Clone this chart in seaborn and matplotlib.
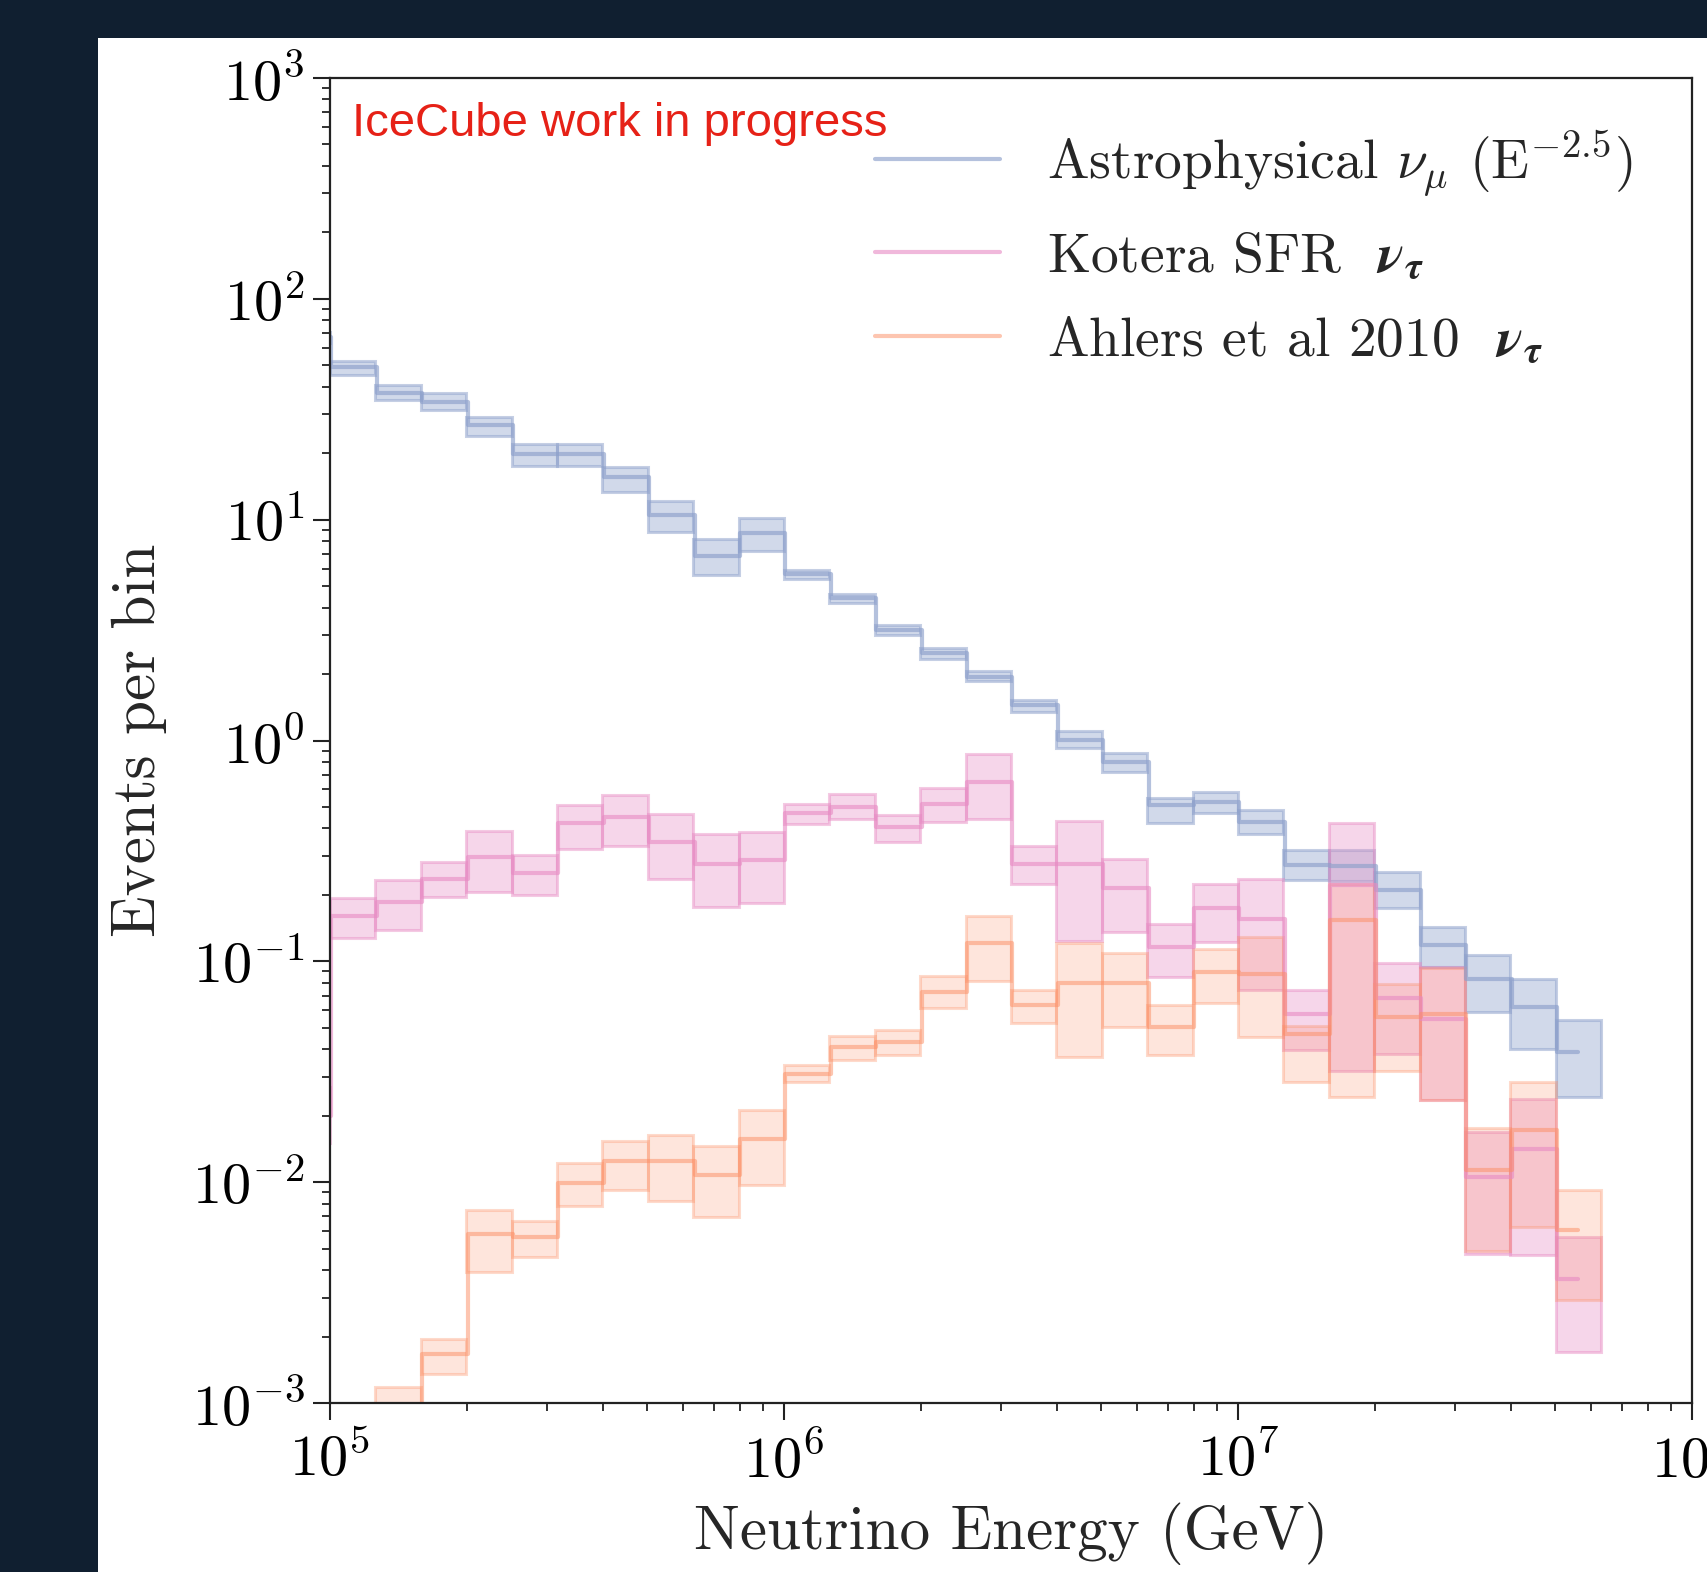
import matplotlib
matplotlib.use("Agg")
import matplotlib.pyplot as plt
import matplotlib.ticker as mticker
from matplotlib.colors import to_rgba
from matplotlib.patches import Rectangle
import numpy as np
import seaborn as sns

# Bins: 10 per decade, first bin (10^4.9-10^5) sits just left of the axis
bin_edges = 10 ** np.linspace(4.9, 7.8, 30)
bin_centers = np.sqrt(bin_edges[:-1] * bin_edges[1:])

# Astrophysical nu_mu (E^-2.5)
astro_val = [67, 49.3, 37.6, 34.2, 26.8, 19.8, 19.8, 15.6, 10.5, 6.84, 8.67, 5.65,
             4.40, 3.16, 2.48, 1.94, 1.45, 1.01, 0.80, 0.51, 0.527, 0.429, 0.273,
             0.27, 0.210, 0.118, 0.0835, 0.0622, 0.039]
astro_lo = [63, 45.2, 34.8, 31.3, 23.9, 17.5, 17.5, 13.4, 8.8, 5.6, 7.2, 5.4,
            4.2, 3.0, 2.34, 1.85, 1.34, 0.92, 0.72, 0.424, 0.468, 0.377, 0.233,
            0.23, 0.174, 0.094, 0.059, 0.040, 0.0243]
astro_hi = [71, 52.3, 40.7, 37.4, 29.3, 22.0, 22.0, 17.4, 12.1, 8.2, 10.2, 5.9,
            4.6, 3.33, 2.61, 2.07, 1.53, 1.10, 0.875, 0.547, 0.586, 0.484, 0.319,
            0.32, 0.255, 0.143, 0.107, 0.0835, 0.054]

# Kotera SFR nu_tau
kotera_val = [0.02, 0.160, 0.186, 0.237, 0.297, 0.250, 0.421, 0.452, 0.348, 0.277,
              0.287, 0.468, 0.501, 0.404, 0.515, 0.650, 0.277, 0.277, 0.214, 0.116,
              0.174, 0.156, 0.058, 0.221, 0.068, 0.055, 0.0106, 0.0142, 0.00366]
kotera_lo = [0.015, 0.127, 0.138, 0.195, 0.206, 0.200, 0.324, 0.333, 0.235, 0.177,
             0.184, 0.42, 0.44, 0.348, 0.429, 0.44, 0.225, 0.123, 0.136, 0.085,
             0.122, 0.074, 0.0396, 0.032, 0.038, 0.0235, 0.00475, 0.00467, 0.0017]
kotera_hi = [0.027, 0.193, 0.233, 0.282, 0.389, 0.303, 0.509, 0.566, 0.465, 0.379,
             0.386, 0.515, 0.571, 0.459, 0.607, 0.867, 0.333, 0.434, 0.292, 0.148,
             0.224, 0.237, 0.074, 0.421, 0.098, 0.094, 0.0169, 0.0239, 0.00565]

# Ahlers et al 2010 nu_tau
ahlers_val = [0.0003, 0.0006, 0.0009, 0.00166, 0.00583, 0.00562, 0.00995, 0.0125,
              0.0125, 0.01074, 0.0157, 0.031, 0.041, 0.0432, 0.0728, 0.1205, 0.0634,
              0.0794, 0.0794, 0.0505, 0.0897, 0.088, 0.047, 0.154, 0.056, 0.058,
              0.0113, 0.0172, 0.00606]
ahlers_lo = [0.0002, 0.0004, 0.0006, 0.00135, 0.00392, 0.00456, 0.00777, 0.00922,
             0.00824, 0.00694, 0.00975, 0.0285, 0.0357, 0.0376, 0.0612, 0.0817, 0.0523,
             0.037, 0.0505, 0.0376, 0.0645, 0.0455, 0.0285, 0.0243, 0.032, 0.0235,
             0.0049, 0.00628, 0.00293]
ahlers_hi = [0.0004, 0.0008, 0.00118, 0.00194, 0.00748, 0.00667, 0.01227, 0.0154,
             0.0163, 0.01455, 0.0213, 0.0339, 0.0458, 0.049, 0.0857, 0.160, 0.0741,
             0.1205, 0.109, 0.0634, 0.114, 0.129, 0.051, 0.225, 0.079, 0.093,
             0.0175, 0.0285, 0.0092]

labels = [
    r"Astrophysical $\nu_\mu$ ($\mathrm{E}^{-2.5}$)",
    r"Kotera SFR  $\boldsymbol{\nu}_{\boldsymbol{\tau}}$",
    r"Ahlers et al 2010  $\boldsymbol{\nu}_{\boldsymbol{\tau}}$",
]

sns.set_style("ticks")
plt.rcParams["font.family"] = "serif"
plt.rcParams["font.serif"] = ["cmr10", "DejaVu Serif"]
plt.rcParams["mathtext.fontset"] = "cm"
plt.rcParams["axes.unicode_minus"] = False

set2 = sns.color_palette("Set2")
colors = [set2[2], set2[3], set2[1]]
fill_alpha = [0.4, 0.35, 0.22]
edge_alpha = [0.5, 0.45, 0.32]
line_alpha = [0.65, 0.6, 0.5]

fig = plt.figure(figsize=(17.08, 15.72), dpi=100, facecolor="#101f30")
fig.patches.append(Rectangle((98 / 1708, 0), 1, 1 - 38 / 1572, transform=fig.transFigure,
                             facecolor="white", edgecolor="none", zorder=-10))
ax = fig.add_axes([330 / 1708, 1 - 1403 / 1572, 1362 / 1708, 1325 / 1572])
ax.set_facecolor("white")

series = [
    (astro_val, astro_lo, astro_hi),
    (kotera_val, kotera_lo, kotera_hi),
    (ahlers_val, ahlers_lo, ahlers_hi),
]
widths = np.diff(bin_edges)
for i, ((val, lo, hi), col, lab) in enumerate(zip(series, colors, labels)):
    lo = np.array(lo)
    hi = np.array(hi)
    ax.bar(bin_edges[:-1], hi - lo, width=widths, bottom=lo, align="edge",
           facecolor=to_rgba(col, fill_alpha[i]), edgecolor=to_rgba(col, edge_alpha[i]),
           linewidth=2.2)
    sns.lineplot(x=bin_centers, y=val, drawstyle="steps-mid", color=col,
                 alpha=line_alpha[i], linewidth=3, label=lab, ax=ax)

ax.set_xscale("log")
ax.set_yscale("log")
ax.set_xlim(1e5, 1e8)
ax.set_ylim(1e-3, 1e3)

pow_fmt = mticker.FuncFormatter(lambda v, p: r"$10^{%d}$" % round(np.log10(v)))
for axis in (ax.xaxis, ax.yaxis):
    axis.set_major_locator(mticker.LogLocator(base=10, numticks=20))
    axis.set_minor_locator(mticker.LogLocator(base=10, subs=np.arange(2, 10), numticks=100))
    axis.set_major_formatter(pow_fmt)
    axis.set_minor_formatter(mticker.NullFormatter())

ax.tick_params(which="major", direction="out", length=12, width=1.5, labelsize=42,
               color="#222222", labelcolor="black")
ax.tick_params(which="minor", direction="out", length=6, width=1.3, color="#222222")
ax.tick_params(axis="x", which="major", pad=9)
ax.tick_params(axis="y", which="major", pad=6)
for sp in ax.spines.values():
    sp.set_linewidth(1.6)
    sp.set_color("#222222")

ax.set_xlabel("Neutrino Energy (GeV)", fontsize=44, labelpad=10)
ax.set_ylabel("Events per bin", fontsize=44, labelpad=18)

ax.text(0.016, 0.956, "IceCube work in progress", transform=ax.transAxes,
        fontsize=34, color="#e62117", family="Liberation Sans", va="baseline")

leg = ax.legend(loc="upper left", bbox_to_anchor=(0.40, 0.962), frameon=False,
                fontsize=40, handlelength=2.25, handletextpad=0.85, labelspacing=0.6,
                borderaxespad=0, borderpad=0)
for txt in leg.get_texts()[1:]:
    txt.set_math_fontfamily("stix")

fig.savefig("out.png", dpi=100, facecolor=fig.get_facecolor())
